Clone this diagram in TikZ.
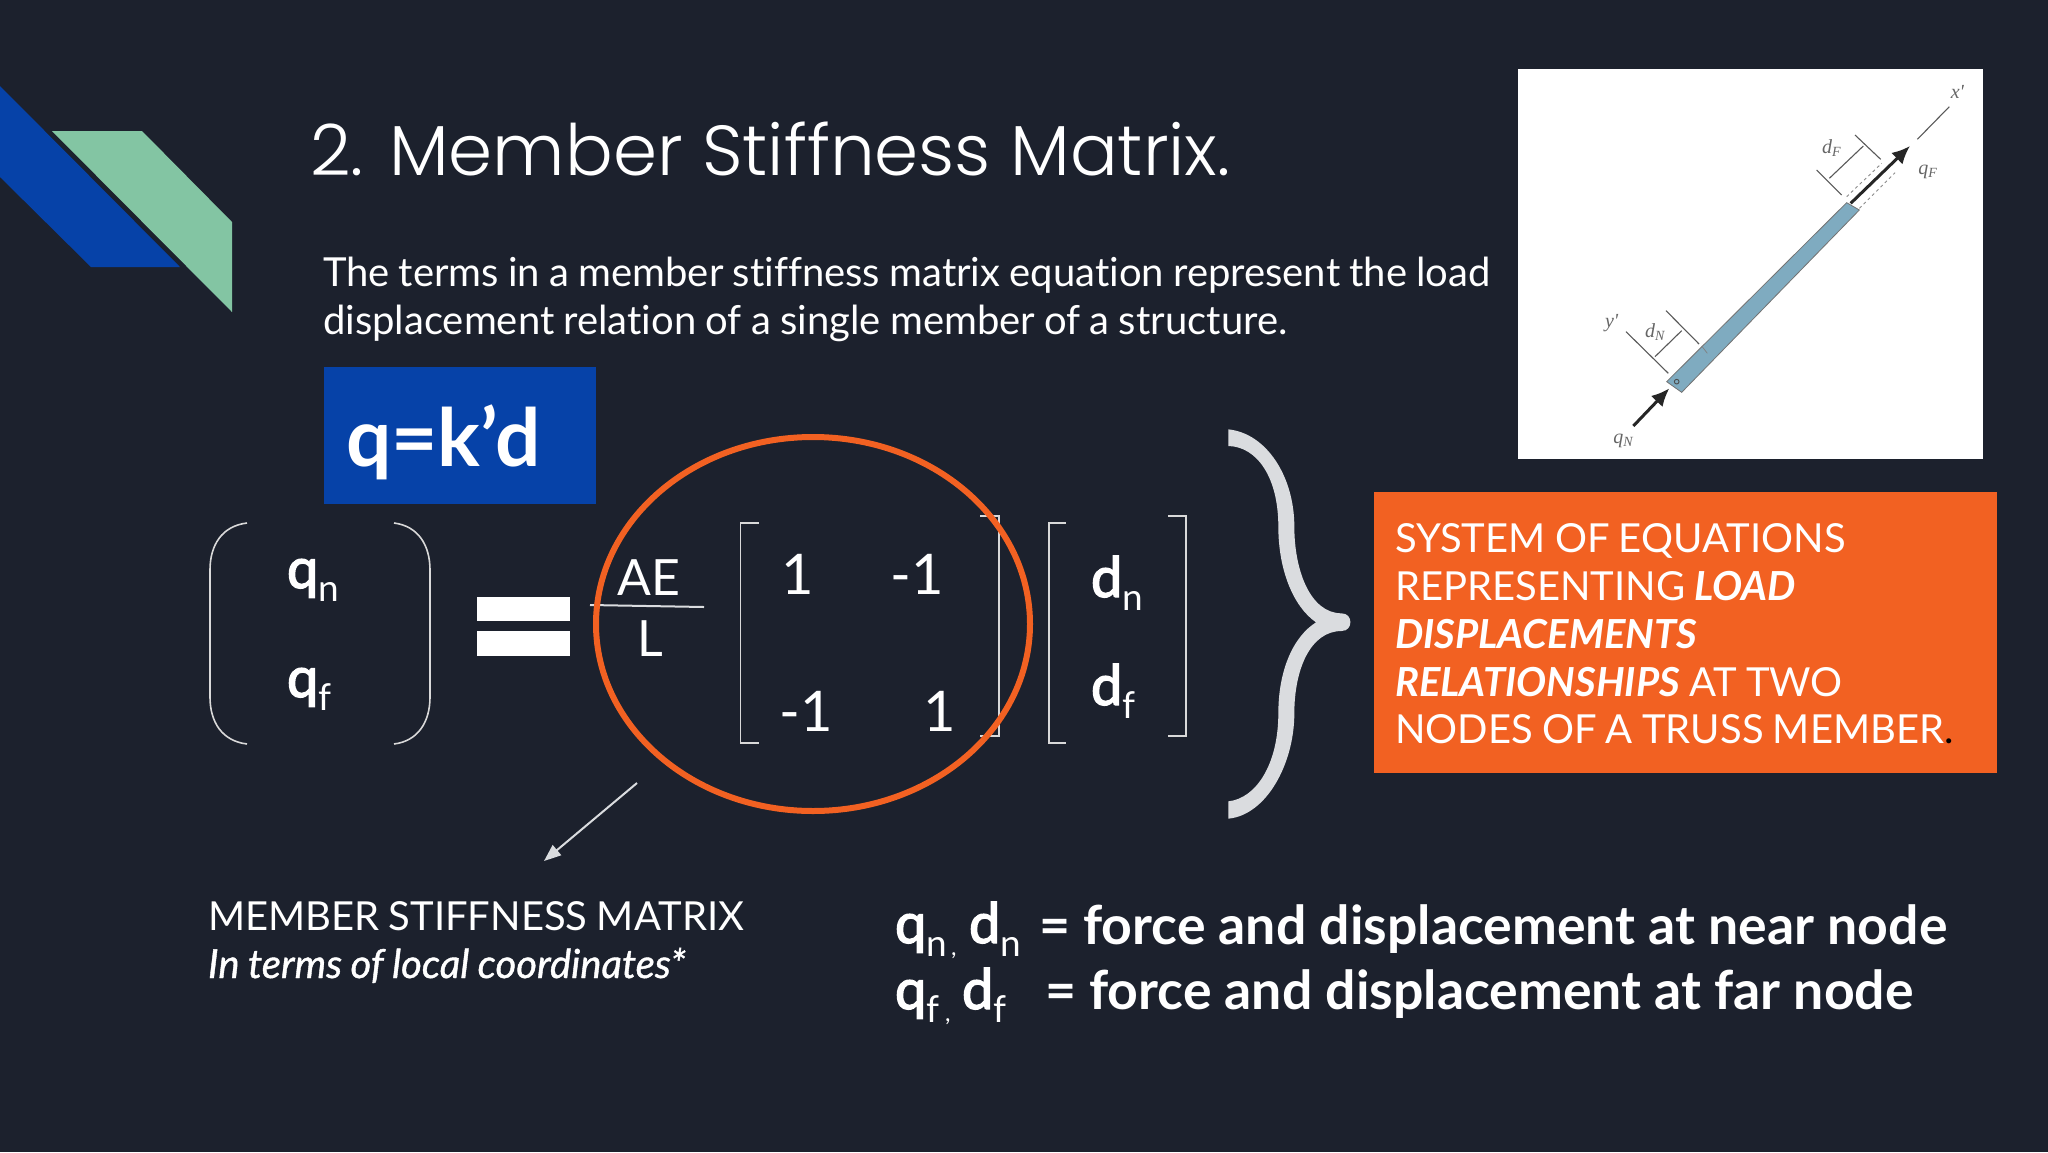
\documentclass[tikz,border=0pt]{standalone}
\usepackage{fontspec}
\setmainfont{Lato}
\newfontfamily\titlefont[UprightFont=* Light]{Poppins}
\newfontfamily\imgfont{Liberation Serif}
\newfontfamily\tight[WordSpace=0.8,Ligatures=NoCommon]{Lato}
\newfontfamily\semi[FakeBold=2.5]{Lato}
\newfontfamily\medit[WordSpace=0.9,Ligatures=NoCommon,ItalicFeatures={FakeBold=1}]{Lato}
\usetikzlibrary{arrows.meta}
\definecolor{bgc}{HTML}{1C212D}
\definecolor{blueb}{HTML}{0642A8}
\definecolor{greenb}{HTML}{83C5A3}
\definecolor{orangeb}{HTML}{F26122}
\definecolor{barc}{HTML}{7FABC0}
\definecolor{greyl}{HTML}{DADCDF}
\newcommand{\fs}[1]{\fontsize{#1}{#1}\selectfont}
\newcommand{\sbs}[2]{\raisebox{-#1pt}{\fs{37}\tight #2}}
\tikzset{
 txt/.style={anchor=base west,inner sep=0pt,outer sep=0pt,text=white},
 mid/.style={anchor=base,inner sep=0pt,outer sep=0pt,text=white},
 brk/.style={draw=white!85!black,line width=1.6pt},
 imgline/.style={draw=black!65,line width=1.1pt},
 imgtxt/.style={anchor=center,inner sep=0pt,text=black!60,font=\imgfont\itshape\fs{20}},
 forcearrow/.style={draw=black!85,line width=3pt,-{Latex[length=18pt,width=16pt]}},
}
\begin{document}
\begin{tikzpicture}[x=1pt,y=-1pt]
\useasboundingbox (0,0) rectangle (2048,1152);
\fill[bgc] (0,0) rectangle (2048,1152);
% logo
\fill[blueb] (0,86) -- (180,267) -- (91,267) -- (0,177) -- cycle;
\fill[greenb] (52,131) -- (142,131) -- (232,222) -- (232,312) -- cycle;
% title
\node[txt] (title) at (310,175) {\titlefont\fs{70.8}2. Member Stiffness Matrix.};
\node[txt] (para1) at (323,286) {\tight\fs{40}The terms in a member stiffness matrix equation represent the load};
\node[txt] (para2) at (323,334) {\tight\fs{40}displacement relation of a single member of a structure.};
% blue box
\fill[blueb] (324,367) rectangle (596,504);
\node[txt] (qkd) at (346,466) {\bfseries\fs{80}q=k’d};
% figure
\fill[white] (1518,69) rectangle (1983,459);
\begin{scope}[shift={(1500pt,-60pt)},x=0.33333pt,y=-0.33333pt]
 \fill[barc] (500,965) -- (1040,428) -- (1078,450) -- (545,997) -- cycle;
 \draw[black!55,line width=.8pt] (500,965) -- (1040,428) -- (1078,450) -- (545,997) -- cycle;
 \draw[black!50,line width=.7pt] (605,858) -- (622,880);
 \draw[black!70,line width=.9pt] (530,965) circle (7);
 \coordinate (qna) at (400,1098); \coordinate (qnb) at (508,985);
 \draw[forcearrow] (qna) -- (qnb);
 \coordinate (qfa) at (1052,430); \coordinate (qfb) at (1230,258);
 \draw[forcearrow] (qfa) -- (qfb);
 \coordinate (xa) at (1252,238); \coordinate (xb) at (1348,140);
 \draw[imgline] (xa) -- (xb);
 \draw[imgline] (378,815) -- (505,940);
 \draw[imgline] (498,752) -- (597,852);
 \draw[imgline] (465,890) -- (545,812);
 \draw[imgline] (950,330) -- (1025,405);
 \draw[imgline] (1065,225) -- (1142,298);
 \draw[imgline] (988,355) -- (1090,258);
 \draw[black!45,dashed,line width=.9pt] (1040,410) -- (1145,310);
 \draw[black!45,dashed,line width=.9pt] (1078,445) -- (1185,338);
 \node[imgtxt] (xlab) at (1372,95) {x'};
 \node[imgtxt] (qflab) at (1284,335) {q\textsubscript{F}};
 \node[imgtxt] (dflab) at (995,265) {d\textsubscript{F}};
 \node[imgtxt] (ylab) at (335,790) {y'};
 \node[imgtxt] (dnlab) at (465,815) {d\textsubscript{N}};
 \node[imgtxt] (qnlab) at (370,1142) {q\textsubscript{N}};
\end{scope}
% left vector
\draw[brk] (247,523) .. controls (222,526) and (210,545) .. (210,570) -- (210,697) .. controls (210,722) and (222,741) .. (247,744);
\draw[brk] (394,523) .. controls (418,526) and (430,545) .. (430,570) -- (430,697) .. controls (430,722) and (418,741) .. (394,744);
\node[txt] (qn) at (287,588) {\semi\fs{56}q\sbs{13}{n}};
\node[txt] (qf) at (287,697) {\semi\fs{56}q\sbs{13}{f}};
% equals
\fill[white] (477,597) rectangle (570,621);
\fill[white] (477,631) rectangle (570,656);
% fraction
\node[mid] (ae) at (649,595) {\fs{50}AE};
\node[mid] (ll) at (650,656) {\fs{50}L};
\coordinate (fa) at (590,605); \coordinate (fb) at (704,607);
\draw[greyl,line width=2pt] (fa) -- (fb);
% matrix
\draw[brk] (759,523) -- (740.5,523) -- (740.5,743) -- (759,743);
\draw[brk] (980,516) -- (999,516) -- (999,736) -- (980,736);
\node[mid] (m11) at (798,594) {\fs{56}1};
\node[mid] (m12) at (917,594) {\fs{56}-1};
\node[mid] (m21) at (806,731) {\fs{56}-1};
\node[mid] (m22) at (940,731) {\fs{56}1};
% d vector
\draw[brk] (1066,523) -- (1049,523) -- (1049,743) -- (1066,743);
\draw[brk] (1168,516) -- (1186,516) -- (1186,736) -- (1168,736);
\node[txt] (dn) at (1091,597) {\semi\fs{56}d\sbs{13}{n}};
\node[txt] (df) at (1091,705) {\semi\fs{56}d\sbs{13}{f}};
% ellipse
\draw[orangeb,line width=6pt] (813,624) ellipse [x radius=217,y radius=187];
% arrow
\coordinate (aa) at (637,783); \coordinate (ab) at (544,861);
\draw[greyl,line width=2pt,-{Triangle[length=17pt,width=13pt]}] (aa) -- (ab);
% brace
\begin{scope}[shift={(1200pt,-410pt)},x=0.33333pt,y=-0.33333pt]
\fill[greyl] (85,58) .. controls (200,70) and (283,200) .. (283,350)
 .. controls (283,480) and (330,610) .. (425,610)
 .. controls (460,610) and (460,663) .. (425,663)
 .. controls (330,663) and (283,780) .. (283,910)
 .. controls (283,1060) and (200,1215) .. (85,1226)
 -- (85,1174)
 .. controls (170,1165) and (235,1060) .. (235,910)
 .. controls (235,780) and (280,680) .. (348,637)
 .. controls (280,590) and (235,480) .. (235,350)
 .. controls (235,200) and (170,110) .. (85,108) -- cycle;
\end{scope}
% orange box
\fill[orangeb] (1374,492) rectangle (1997,773);
\node[txt] (o1) at (1395,552) {\tight\fs{40}SYSTEM OF EQUATIONS};
\node[txt] (o2) at (1395,600) {\tight\fs{40}REPRESENTING \bfseries\itshape LOAD};
\node[txt] (o3) at (1395,648) {\tight\fs{40}\bfseries\itshape DISPLACEMENTS};
\node[txt] (o4) at (1395,696) {\tight\fs{40}{\bfseries\itshape RELATIONSHIPS} AT TWO};
\node[txt] (o5) at (1395,743) {\tight\fs{40}NODES OF A TRUSS MEMBER{\color{black}.}};
% captions
\node[txt] (c1) at (208,930) {\tight\fs{40}MEMBER STIFFNESS MATRIX};
\node[txt] (c2) at (208,978) {\medit\itshape\fs{40}In terms of local coordinates*};
% definitions
\node[txt] (l1q) at (895,943) {\semi\fs{56}q\sbs{13}{n}};
\node[txt] (l1c) at (951,955) {\tight\fs{24},};
\node[txt] (l1d) at (969,943) {\semi\fs{56}d\sbs{13}{n}};
\node[txt] (l1b) at (1039,944) {\bfseries\fs{53.6}= force and displacement at near node};
\node[txt] (l2q) at (895,1009) {\semi\fs{56}q\sbs{13}{f}};
\node[txt] (l2c) at (945,1021) {\tight\fs{24},};
\node[txt] (l2d) at (962,1009) {\semi\fs{56}d\sbs{13}{f}};
\node[txt] (l2b) at (1045,1009) {\bfseries\fs{53.6}= force and displacement at far node};
\end{tikzpicture}
\end{document}
